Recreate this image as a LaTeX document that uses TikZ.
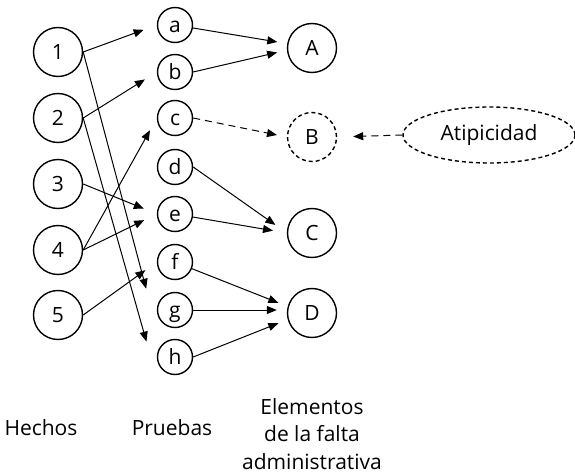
\documentclass[tikz,border=0pt]{standalone}
\usepackage{fontspec}
\setmainfont{Open Sans}
\usetikzlibrary{arrows.meta,calc,shapes.geometric}
\begin{document}
\begin{tikzpicture}[x=1pt,y=-1pt,
  every node/.style={font=\fontsize{21}{27.5}\selectfont},
  big/.style={circle,draw,line width=1.4pt,minimum size=49pt,inner sep=0pt,
              text height=15pt,text depth=0pt},
  small/.style={big,minimum size=35pt},
  dotted line/.style={dash pattern=on 4pt off 3pt},
  arr/.style={line width=1pt,-{Triangle[length=10pt,width=8pt]}},
  dsh/.style={dash pattern=on 7pt off 5pt}]
\useasboundingbox (0,0) rectangle (575,476);

% Hechos
\node[big] (n1) at (58,52)  {1};
\node[big] (n2) at (58,118) {2};
\node[big] (n3) at (58,184) {3};
\node[big] (n4) at (58,250) {4};
\node[big] (n5) at (58,315) {5};

% Pruebas
\node[small] (a) at (175,25)  {a};
\node[small] (b) at (175,72)  {b};
\node[small] (c) at (175,118) {c};
\node[small] (d) at (175,167) {d};
\node[small] (e) at (175,214) {e};
\node[small] (f) at (175,262) {f};
\node[small] (g) at (175,310) {g};
\node[small] (h) at (175,357) {h};

% Elementos de la falta
\node[big] (A) at (312,48)  {A};
\node[big,dotted line] (B) at (312,137) {B};
\node[big] (C) at (312,233) {C};
\node[big] (D) at (312,313) {D};

\node[ellipse,draw,line width=1.4pt,dotted line,minimum width=172pt,
      minimum height=56pt,inner sep=0pt] (atip) at (489,135) {Atipicidad};

% Hechos -> Pruebas
\draw[arr,shorten >=14pt] (n1.east) -- (a.west);
\draw[arr,shorten >=22pt] (n1.east) -- ($(g.west)+(-5,0)$);
\draw[arr,shorten >=14pt] (n2.east) -- (b.west);
\draw[arr,shorten >=16pt] (n2.east) -- ($(h.west)+(-6,0)$);
\draw[arr,shorten >=14pt] (n3.east) -- (e.west);
\draw[arr,shorten >=14pt] (n4.east) -- (c.west);
\draw[arr,shorten >=14pt] (n4.east) -- (e.west);
\draw[arr,shorten >=14pt] (n5.east) -- (f.west);

% Pruebas -> Elementos
\draw[arr,shorten >=10pt] (a) -- (A.170);
\draw[arr,shorten >=10pt] (b.east) -- (A.185);
\draw[arr,dsh,shorten >=10pt] (c.east) -- (B.west);
\draw[arr,shorten >=14pt] (d.east) -- (C.west);
\draw[arr,shorten >=14pt] (e) -- (C.west);
\draw[arr,shorten >=10pt] (f) -- (D.165);
\draw[arr,shorten >=10pt] (g.east) -- (g.east -| D.west);
\draw[arr,shorten >=10pt] (h.east) -- (D.195);
\draw[arr,dsh,shorten >=16pt] (atip.west) -- (B.east);

% Column titles
\node[anchor=base] (hechos) at (41,435) {Hechos};
\node[anchor=base] (pruebas) at (172,435) {Pruebas};
\node[align=center] (elem) at (312,434) {Elementos\\de la falta\\administrativa};
\end{tikzpicture}
\end{document}
